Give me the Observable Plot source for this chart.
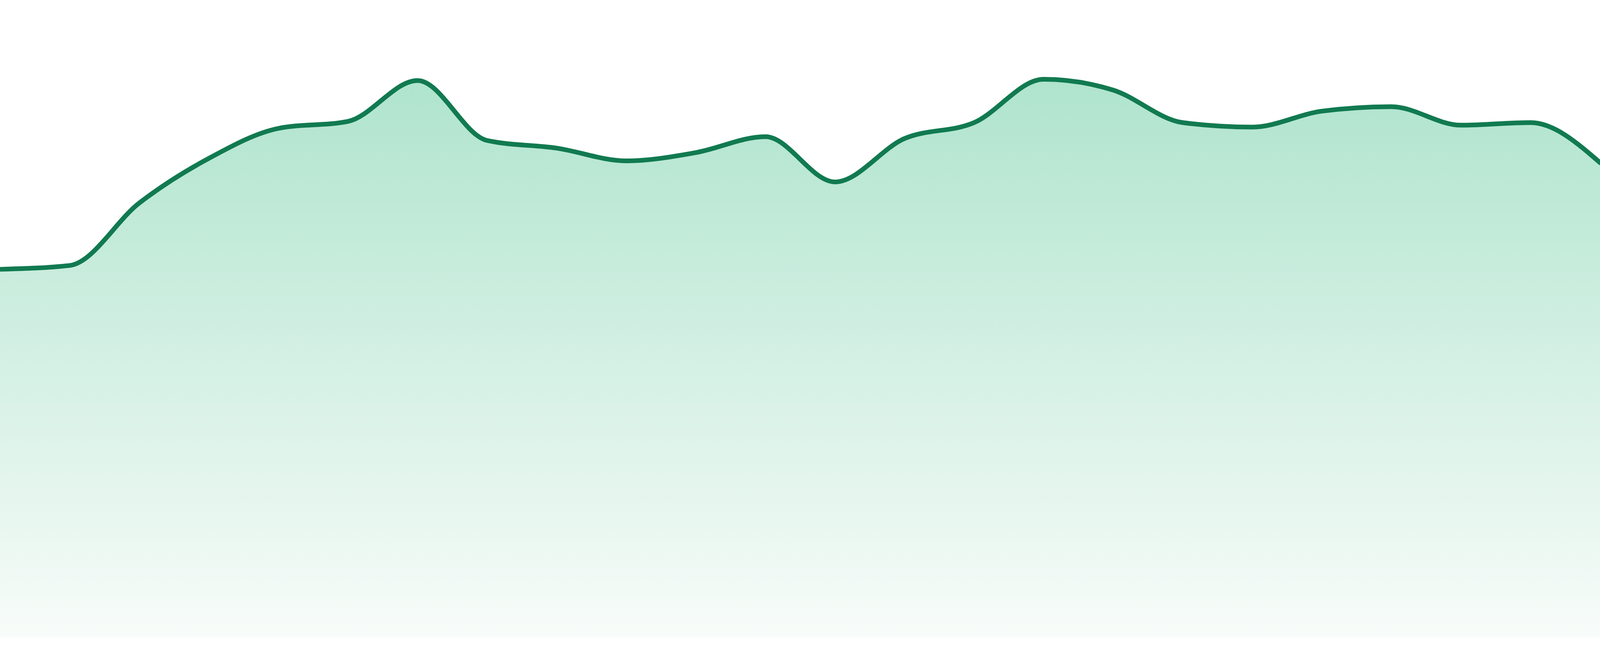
<!DOCTYPE html>
<html>
<head>
<meta charset="utf-8">
<script src="https://cdn.jsdelivr.net/npm/d3@7"></script>
<script src="https://cdn.jsdelivr.net/npm/@observablehq/plot@0.6"></script>
<style>
  html, body { margin: 0; padding: 0; background: #ffffff; overflow: hidden; }
  #chart svg { display: block; }
</style>
</head>
<body>
<div id="chart"></div>
<script>
// Data (24 evenly spaced samples)
const steps = [0, 1, 2, 3, 4, 5, 6, 7, 8, 9, 10, 11, 12, 13, 14, 15, 16, 17, 18, 19, 20, 21, 22, 23];
const values = [57.8, 58.4, 68.2, 75.2, 79.9, 81.0, 87.4, 78.0, 76.8, 74.8, 76.1, 78.6,
                71.5, 78.3, 80.8, 87.6, 85.9, 80.8, 80.1, 82.6, 83.3, 80.4, 80.8, 74.5];

const data = steps.map((s, i) => ({step: s, value: values[i]}));

const gradientDefs = () => {
  const ns = "http://www.w3.org/2000/svg";
  const defs = document.createElementNS(ns, "defs");
  const lg = document.createElementNS(ns, "linearGradient");
  lg.setAttribute("id", "areaFill");
  lg.setAttribute("x1", "0"); lg.setAttribute("y1", "0");
  lg.setAttribute("x2", "0"); lg.setAttribute("y2", "1");
  [["0%", "#afe4cd"], ["100%", "#f8fcfa"]].forEach(([o, c]) => {
    const s = document.createElementNS(ns, "stop");
    s.setAttribute("offset", o);
    s.setAttribute("stop-color", c);
    lg.appendChild(s);
  });
  defs.appendChild(lg);
  return defs;
};

// The chart fills the window, like the reference
const W = document.documentElement.clientWidth || window.innerWidth || 4800;
const H = window.innerHeight || document.documentElement.clientHeight || 1680;

const chart = Plot.plot({
  width: W,
  height: H,
  marginLeft: 0,
  marginRight: 0,
  marginTop: 0,
  marginBottom: H * 47 / 1680,
  x: {axis: null, domain: [0, 23]},
  y: {axis: null, domain: [0, 100]},
  style: {width: W + "px", height: H + "px", maxWidth: "none"},
  marks: [
    gradientDefs,
    Plot.areaY(data, {x: "step", y: "value", curve: "monotone-x", fill: "url(#areaFill)"}),
    Plot.lineY(data, {x: "step", y: "value", curve: "monotone-x", stroke: "#117a50", strokeWidth: 14 * W / 4800})
  ]
});
document.getElementById("chart").appendChild(chart);
</script>
</body>
</html>
